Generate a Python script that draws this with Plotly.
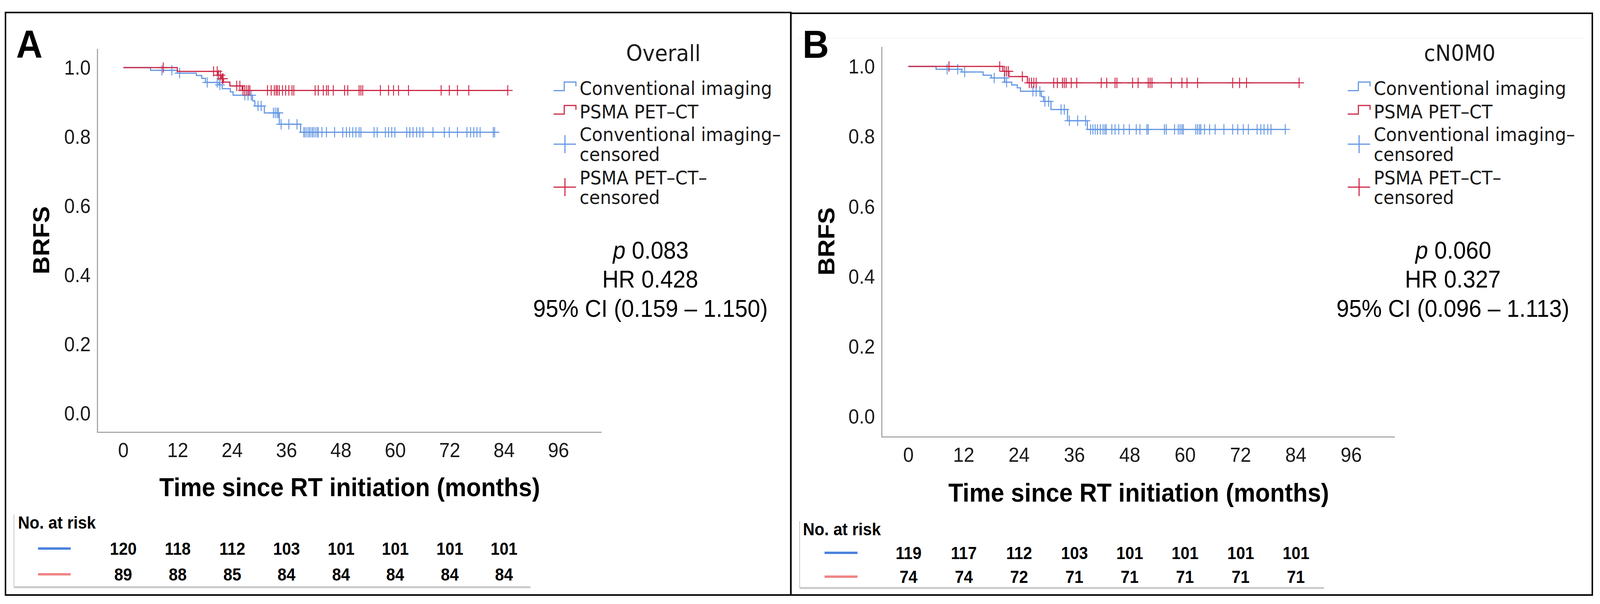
import numpy as np
import plotly.graph_objects as go

W, H = 4370, 1546

# ---------------- data ----------------
months_ticks = [0, 12, 24, 36, 48, 60, 72, 84, 96]
brfs_ticks = [0.0, 0.2, 0.4, 0.6, 0.8, 1.0]
risk_times = [0, 12, 24, 36, 48, 60, 72, 84]

# Panel A (Overall)
a_conv_t = [0, 6.0, 11.9, 16.1, 17.3, 18.1, 21.1, 21.8, 23.6, 24.2, 28.5, 29.0, 31.1, 34.4, 39.1, 82.0]
a_conv_s = [1.0, 0.992, 0.984, 0.977, 0.969, 0.957, 0.950, 0.939, 0.930, 0.920, 0.904, 0.889, 0.869, 0.836, 0.813, 0.813]
a_psma_t = [0, 11.9, 20.8, 21.6, 22.1, 23.5, 26.2, 84.8]
a_psma_s = [1.0, 0.989, 0.978, 0.968, 0.958, 0.947, 0.934, 0.934]
a_conv_cens = [8.5, 10.7, 12.4, 18.5, 20.7, 21.3, 26.8, 27.5, 28.2, 29.7, 30.4, 33.1, 33.5, 33.9, 34.2,
               34.8, 36.5, 38.3, 39.8, 40.1, 40.5, 40.9, 41.2, 41.6, 41.9, 42.3, 42.7, 43.0, 43.8, 44.8,
               46.6, 48.4, 49.2, 49.9, 50.6, 51.3, 52.0, 52.4, 55.3, 56.0, 57.8, 58.5, 59.2, 59.9, 62.5,
               63.2, 63.9, 64.7, 65.4, 66.1, 68.3, 70.8, 71.9, 73.7, 75.8, 76.6, 77.3, 78.0, 78.7, 81.6, 81.9]
a_psma_cens = [8.8, 19.9, 20.7, 21.0, 21.4, 21.8, 22.0, 25.0, 25.7, 26.4, 26.8, 27.2, 27.6, 27.9, 31.8,
               32.6, 33.3, 33.7, 34.0, 34.4, 35.1, 35.8, 36.5, 37.2, 37.6, 42.3, 43.0, 44.1, 44.8, 45.2,
               46.3, 48.8, 49.5, 52.0, 52.4, 52.8, 56.7, 58.5, 59.6, 60.7, 62.9, 70.1, 71.9, 73.7, 76.2, 84.8]
a_risk_conv = [120, 118, 112, 103, 101, 101, 101, 101]
a_risk_psma = [89, 88, 85, 84, 84, 84, 84, 84]

# Panel B (cN0M0)
b_conv_t = [0, 6.0, 11.6, 16.2, 18.0, 20.9, 22.4, 23.6, 24.3, 28.8, 29.3, 30.9, 34.5, 38.8, 81.7]
b_conv_s = [1.0, 0.992, 0.984, 0.975, 0.967, 0.955, 0.947, 0.939, 0.929, 0.914, 0.900, 0.877, 0.845, 0.820, 0.820]
b_psma_t = [0, 20.5, 21.8, 25.8, 84.7]
b_psma_s = [1.0, 0.986, 0.971, 0.953, 0.953]
b_conv_cens = [8.4, 10.7, 12.2, 18.6, 20.8, 21.3, 27.0, 27.7, 28.5, 29.6, 30.4, 33.1, 33.8, 34.9, 36.7,
               38.4, 39.5, 40.0, 40.5, 41.0, 41.6, 42.2, 42.6, 42.9, 44.1, 44.8, 45.6, 46.7, 47.9, 49.4,
               50.2, 51.7, 52.0, 55.5, 55.9, 57.7, 58.5, 58.9, 59.3, 59.6, 62.3, 62.7, 63.1, 63.4, 64.2,
               65.3, 66.5, 68.4, 70.3, 71.4, 72.6, 73.7, 75.6, 76.4, 77.1, 77.9, 78.6, 81.7]
b_psma_cens = [8.8, 19.8, 20.9, 21.3, 21.7, 24.7, 26.2, 26.7, 27.2, 27.7, 31.5, 32.3, 33.4, 33.8, 34.2,
               35.3, 36.5, 41.8, 43.0, 44.8, 45.2, 48.6, 49.8, 52.0, 52.4, 52.8, 57.0, 59.3, 60.4, 62.7,
               70.3, 71.8, 73.3, 84.7]
b_risk_conv = [119, 117, 112, 103, 101, 101, 101, 101]
b_risk_psma = [74, 74, 72, 71, 71, 71, 71, 71]

legend_labels = ["Conventional imaging", "PSMA PET\u2013CT", "Conventional imaging\u2013", "censored",
                 "PSMA PET\u2013CT\u2013", "censored"]
panel_titles = ["Overall", "cN0M0"]
stats_a = ["<i>p</i> 0.083", "HR 0.428", "95% CI (0.159 \u2013 1.150)"]
stats_b = ["<i>p</i> 0.060", "HR 0.327", "95% CI (0.096 \u2013 1.113)"]

# ---------------- style ----------------
BLUE = "#6396e2"
RED = "#cc2746"
BLUE_T = "#4a82de"
RED_T = "#f08484"
AXC = "#a9a9a9"
TXT = "#1a1a1a"
SANS = "Liberation Sans"
LEG = "DejaVu Sans"


def px(x):
    return x / W


def py(y):
    return 1 - y / H


def step_at(times, surv, t):
    idx = np.searchsorted(np.array(times), t, side="right") - 1
    return [surv[i] for i in idx]


fig = go.Figure()

panels = [
    dict(xa="x", ya="y", conv_t=a_conv_t, conv_s=a_conv_s, psma_t=a_psma_t, psma_s=a_psma_s,
         cc=a_conv_cens, pc=a_psma_cens),
    dict(xa="x2", ya="y2", conv_t=b_conv_t, conv_s=b_conv_s, psma_t=b_psma_t, psma_s=b_psma_s,
         cc=b_conv_cens, pc=b_psma_cens),
]

for p in panels:
    for tt, ss, cens, col in [(p["conv_t"], p["conv_s"], p["cc"], BLUE),
                              (p["psma_t"], p["psma_s"], p["pc"], RED)]:
        fig.add_trace(go.Scatter(x=tt, y=ss, mode="lines", line=dict(color=col, width=3, shape="hv"),
                                 xaxis=p["xa"], yaxis=p["ya"], showlegend=False, hoverinfo="skip"))
        fig.add_trace(go.Scatter(x=cens, y=step_at(tt, ss, cens), mode="markers",
                                 marker=dict(symbol="cross-thin", size=19, line=dict(color=col, width=2.5)),
                                 xaxis=p["xa"], yaxis=p["ya"], showlegend=False, hoverinfo="skip"))

axis_common = dict(showgrid=False, zeroline=False, showline=True, linecolor=AXC, linewidth=3,
                   ticks="", tickfont=dict(family=SANS, size=52, color=TXT))

fig.update_layout(
    width=W, height=H, autosize=False,
    margin=dict(l=0, r=0, t=0, b=0),
    paper_bgcolor="white", plot_bgcolor="white",
    xaxis=dict(domain=[px(268), px(1643)], range=[-5.57, 105.49], tickvals=months_ticks,
               ticklabelstandoff=0, anchor="y", **axis_common),
    yaxis=dict(domain=[py(1105), py(125)], range=[-0.0531, 1.0542], tickvals=brfs_ticks,
               ticktext=[f"{v:.1f}" for v in brfs_ticks], ticklabelstandoff=7, anchor="x", **axis_common),
    xaxis2=dict(domain=[px(2410), px(3810)], range=[-5.635, 105.48], tickvals=months_ticks,
                ticklabelstandoff=0, anchor="y2", **axis_common),
    yaxis2=dict(domain=[py(1117), py(120)], range=[-0.0569, 1.0558], tickvals=brfs_ticks,
                ticktext=[f"{v:.1f}" for v in brfs_ticks], ticklabelstandoff=7, anchor="x2", **axis_common),
)

shapes = []
ann = []

# panel frames
shapes.append(dict(type="rect", xref="paper", yref="paper", x0=px(15), x1=px(2160), y0=py(1523), y1=py(32),
                   line=dict(color="black", width=4)))
shapes.append(dict(type="rect", xref="paper", yref="paper", x0=px(2160), x1=px(4349), y0=py(1523), y1=py(34),
                   line=dict(color="black", width=4)))
shapes.append(dict(type="line", xref="paper", yref="paper", x0=px(2177), x1=px(4324), y0=py(98), y1=py(98),
                   line=dict(color="#f3f3f3", width=2)))

# panel letters
for letter, x in [("A", 80), ("B", 2228)]:
    ann.append(dict(text=f"<b>{letter}</b>", x=px(x), y=py(113), xref="paper", yref="paper",
                    xanchor="center", yanchor="middle", showarrow=False,
                    font=dict(family=SANS, size=100, color="black")))

layout_specs = [
    dict(xa="x", title_x=955, title_y=1247, brfs_x=112, brfs_y=615, title=panel_titles[0], title_cx=1812,
         icon_x0=1512, icon_xm=1541, icon_x1=1573, text_x=1581, stats=stats_a, stats_cx=1776,
         nar_x=47, nar_y=1337, sample_x0=104, sample_x1=193, row_b=1404, row_r=1470,
         frame_x=38, frame_y0=1317, frame_y1=1503, frame_x1=1449,
         risk_c=a_risk_conv, risk_p=a_risk_psma),
    dict(xa="x2", title_x=3110, title_y=1261, brfs_x=2257, brfs_y=618, title=panel_titles[1], title_cx=3987,
         icon_x0=3681, icon_xm=3710, icon_x1=3742, text_x=3750, stats=stats_b, stats_cx=3968,
         nar_x=2191, nar_y=1354, sample_x0=2252, sample_x1=2342, row_b=1415, row_r=1476,
         frame_x=2184, frame_y0=1334, frame_y1=1505, frame_x1=3616,
         risk_c=b_risk_conv, risk_p=b_risk_psma),
]

legend_y = [226, 286, 344, 395, 455, 505]
stats_y = [640, 715, 789]

for s in layout_specs:
    # axis titles
    ann.append(dict(text="<b>Time since RT initiation (months)</b>", x=px(s["title_x"]), y=py(s["title_y"]),
                    xref="paper", yref="paper", xanchor="center", yanchor="middle", showarrow=False,
                    font=dict(family=SANS, size=66, color="black")))
    ann.append(dict(text="<b>BRFS</b>", x=px(s["brfs_x"]), y=py(s["brfs_y"]), textangle=-90,
                    xref="paper", yref="paper", xanchor="center", yanchor="middle", showarrow=False,
                    font=dict(family=SANS, size=64, color="black")))
    # legend title
    ann.append(dict(text=s["title"], x=px(s["title_cx"]), y=py(136), xref="paper", yref="paper",
                    xanchor="center", yanchor="middle", showarrow=False,
                    font=dict(family=LEG, size=57, color=TXT)))
    # legend text
    for lab, yy in zip(legend_labels, legend_y):
        ann.append(dict(text=lab, x=px(s["text_x"]), y=py(yy), xref="paper", yref="paper",
                        xanchor="left", yanchor="middle", showarrow=False,
                        font=dict(family=LEG, size=48, color=TXT)))
    # legend icons (steps)
    for c, col in [(legend_y[0], BLUE), (legend_y[1], RED)]:
        path = (f"M {px(s['icon_x0'])},{py(c + 6)} L {px(s['icon_xm'])},{py(c + 6)} "
                f"L {px(s['icon_xm'])},{py(c - 16)} L {px(s['icon_x1'])},{py(c - 16)} "
                f"L {px(s['icon_x1'])},{py(c - 5)}")
        shapes.append(dict(type="path", xref="paper", yref="paper", path=path,
                           line=dict(color=col, width=3)))
    # legend icons (crosses)
    for c, col in [(369, BLUE), (479, RED)]:
        shapes.append(dict(type="line", xref="paper", yref="paper", x0=px(s["icon_x0"]), x1=px(s["icon_x1"]),
                           y0=py(c), y1=py(c), line=dict(color=col, width=3)))
        shapes.append(dict(type="line", xref="paper", yref="paper", x0=px(s["icon_xm"] + 2),
                           x1=px(s["icon_xm"] + 2), y0=py(c - 23), y1=py(c + 23), line=dict(color=col, width=3)))
    # stats
    for txt, yy in zip(s["stats"], stats_y):
        ann.append(dict(text=txt, x=px(s["stats_cx"]), y=py(yy), xref="paper", yref="paper",
                        xanchor="center", yanchor="middle", showarrow=False,
                        font=dict(family=SANS, size=62, color="black")))
    # risk table
    ann.append(dict(text="<b>No. at risk</b>", x=px(s["nar_x"]), y=py(s["nar_y"]), xref="paper", yref="paper",
                    xanchor="left", yanchor="middle", showarrow=False,
                    font=dict(family=SANS, size=44, color="black")))
    shapes.append(dict(type="line", xref="paper", yref="paper", x0=px(s["sample_x0"]), x1=px(s["sample_x1"]),
                       y0=py(s["row_b"]), y1=py(s["row_b"]), line=dict(color=BLUE_T, width=6)))
    shapes.append(dict(type="line", xref="paper", yref="paper", x0=px(s["sample_x0"]), x1=px(s["sample_x1"]),
                       y0=py(s["row_r"]), y1=py(s["row_r"]), line=dict(color=RED_T, width=6)))
    for t, nb, nr in zip(risk_times, s["risk_c"], s["risk_p"]):
        for n, yy in [(nb, s["row_b"]), (nr, s["row_r"])]:
            ann.append(dict(text=f"<b>{n}</b>", x=t, xref=s["xa"], y=py(yy), yref="paper",
                            xanchor="center", yanchor="middle", showarrow=False,
                            font=dict(family=SANS, size=44, color="black")))
    shapes.append(dict(type="line", xref="paper", yref="paper", x0=px(s["frame_x"]), x1=px(s["frame_x"]),
                       y0=py(s["frame_y0"]), y1=py(s["frame_y1"]), line=dict(color="#c4c4c4", width=2)))
    shapes.append(dict(type="line", xref="paper", yref="paper", x0=px(s["frame_x"]), x1=px(s["frame_x1"]),
                       y0=py(s["frame_y1"]), y1=py(s["frame_y1"]), line=dict(color="#c9c9c9", width=5)))

fig.update_layout(shapes=shapes, annotations=ann)

# fit the fixed-size figure into the browser viewport (no page margin, no scrollbars)
fit_js = """
(function(){
  var gd = document.getElementById('{plot_id}');
  document.documentElement.style.margin = '0';
  document.body.style.margin = '0';
  document.documentElement.style.overflow = 'hidden';
  document.body.style.overflow = 'hidden';
  var sx = Math.min(1, window.innerWidth / %d);
  var sy = Math.min(1, window.innerHeight / %d);
  if (sx < 0.999 || sy < 0.999) {
    gd.style.transformOrigin = '0 0';
    gd.style.transform = 'scale(' + sx + ',' + sy + ')';
  }
})();
""" % (W, H)

fig.write_html("out.html", post_script=fit_js, config={"displayModeBar": False})
